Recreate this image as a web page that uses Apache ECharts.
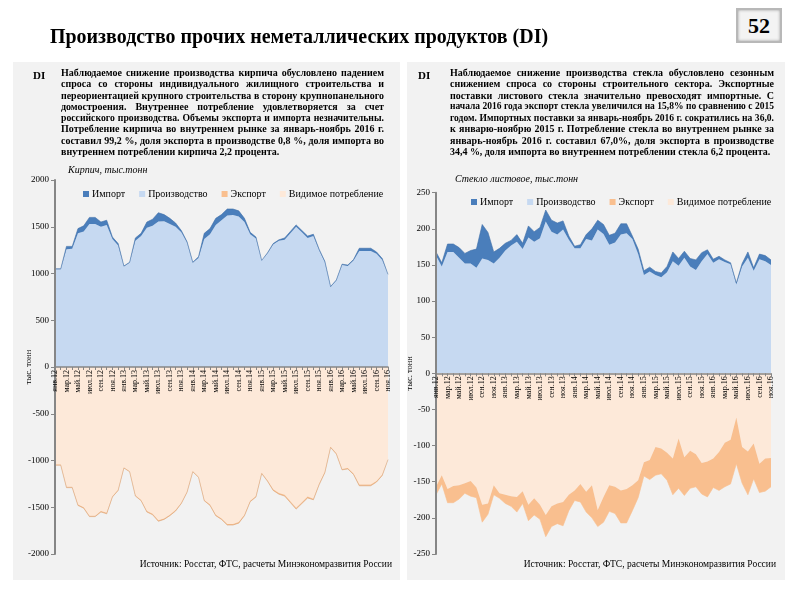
<!DOCTYPE html>
<html>
<head>
<meta charset="utf-8">
<script src="https://cdn.jsdelivr.net/npm/echarts@6/dist/echarts.min.js"></script>
<style>
  html, body { margin:0; padding:0; background:#fff; }
  #wrap { position:relative; width:800px; height:597px; overflow:hidden; font-family:'Liberation Serif', 'Times New Roman', serif; }
  #chart { position:absolute; left:0; top:0; width:800px; height:597px; }
  .ov { position:absolute; z-index:5; color:#000; }
  #title { left:50px; top:24px; font-weight:bold; font-size:21px; white-space:nowrap; transform-origin:left top; }
  #pg { left:736px; top:8px; width:42px; height:31px; border:2px solid #b8b8b8; box-shadow: inset 0 0 3px #999; background:#f3f3f3;
        font-weight:bold; font-size:22px; text-align:center; line-height:31px; }
  .di { font-weight:bold; font-size:11px; }
  .para { font-weight:bold; font-size:10px; }
  .ln { height:11.3px; line-height:11.3px; text-align:justify; text-align-last:justify; white-space:normal; overflow:visible; }
  .ln.last { text-align:left; text-align-last:left; }
</style>
</head>
<body>
<div id="wrap">
  <div id="chart"></div>
  <div class="ov" id="title">Производство прочих неметаллических продуктов (DI)</div>
  <div class="ov" id="pg">52</div>
  <div class="ov di" style="left:33px;top:69px;">DI</div>
  <div class="ov di" style="left:418px;top:69px;">DI</div>
  <div class="ov para" id="paraL" style="left:61px;top:67px;width:323px;"></div>
  <div class="ov para" id="paraR" style="left:450px;top:67px;width:324px;"></div>
</div>
<script>
// ---------- Texts ----------
const textLeft = [
  "Наблюдаемое снижение производства кирпича обусловлено падением",
  "спроса со стороны индивидуального жилищного строительства и",
  "переориентацией крупного строительства в сторону крупнопанельного",
  "домостроения. Внутреннее потребление удовлетворяется за счет",
  "российского производства. Объемы экспорта  и импорта незначительны.",
  "Потребление кирпича во внутреннем рынке за январь-ноябрь 2016 г.",
  "составил 99,2 %, доля экспорта в производстве  0,8 %, доля импорта во",
  "внутреннем потреблении кирпича 2,2 процента."
];
const textRight = [
  "Наблюдаемое снижение производства стекла обусловлено сезонным",
  "снижением спроса со стороны строительного сектора. Экспортные",
  "поставки листового стекла  значительно превосходят импортные. С",
  "начала 2016 года экспорт стекла увеличился на 15,8% по сравнению с 2015",
  "годом. Импортных поставки за январь-ноябрь 2016 г. сократились на 36,0.",
  "к январю-ноябрю 2015 г. Потребление стекла во внутреннем рынке за",
  "январь-ноябрь 2016 г. составил 67,0%, доля экспорта в производстве",
  "34,4 %,  доля импорта во внутреннем потреблении стекла 6,2 процента."
];

// ---------- Data ----------
const categories = [
  'янв.12','фев.12','мар.12','апр.12','май.12','июн.12','июл.12','авг.12','сен.12','окт.12','ноя.12','дек.12',
  'янв.13','фев.13','мар.13','апр.13','май.13','июн.13','июл.13','авг.13','сен.13','окт.13','ноя.13','дек.13',
  'янв.14','фев.14','мар.14','апр.14','май.14','июн.14','июл.14','авг.14','сен.14','окт.14','ноя.14','дек.14',
  'янв.15','фев.15','мар.15','апр.15','май.15','июн.15','июл.15','авг.15','сен.15','окт.15','ноя.15','дек.15',
  'янв.16','фев.16','мар.16','апр.16','май.16','июн.16','июл.16','авг.16','сен.16','окт.16','ноя.16'
];

// Кирпич, тыс. тонн
const brickProduction = [
  1045,1045,1260,1265,1430,1450,1530,1530,1500,1520,1370,1300,
  1075,1115,1350,1400,1490,1510,1555,1560,1530,1500,1440,1330,
  1115,1165,1370,1420,1520,1570,1620,1625,1610,1550,1420,1375,
  1140,1215,1310,1350,1360,1430,1500,1440,1380,1400,1250,1120,
  855,925,1090,1080,1140,1240,1240,1240,1210,1145,985
];
const brickImport = [
  5,5,30,25,50,60,70,70,50,50,20,20,
  5,5,30,30,60,70,95,70,60,40,20,10,
  5,15,60,60,70,60,70,65,60,40,20,15,
  0,5,10,10,20,20,20,20,20,20,10,10,
  5,5,10,10,10,30,30,30,20,15,5
];
const brickExport = [
  6,6,8,8,10,10,10,10,10,10,8,8,
  6,6,8,8,10,10,10,10,10,10,8,8,
  6,6,8,10,10,10,12,12,12,10,10,8,
  8,10,12,12,14,14,14,14,14,12,12,10,
  8,8,10,10,12,12,12,12,12,10,8
];
const brickConsumption = [
  1044,1044,1282,1282,1470,1500,1590,1590,1540,1560,1382,1312,
  1074,1114,1372,1422,1540,1570,1640,1620,1580,1530,1452,1332,
  1114,1174,1422,1470,1580,1620,1678,1678,1658,1580,1430,1382,
  1132,1210,1308,1348,1366,1436,1506,1446,1386,1408,1248,1120,
  852,922,1090,1080,1138,1258,1258,1258,1218,1150,982
];

// Стекло листовое, тыс. тонн
const glassProduction = [
  163,148,168,168,160,152,152,146,159,157,152,160,
  170,177,182,172,188,182,187,210,196,192,199,185,
  173,173,186,184,199,193,178,181,192,194,186,165,
  136,141,136,133,140,155,149,160,148,143,155,165,
  153,158,154,151,123,148,160,142,158,155,150
];
const glassImport = [
  5,5,11,11,14,14,18,26,47,38,16,13,
  10,7,10,8,16,14,15,16,16,16,12,5,
  3,5,6,16,13,13,13,13,15,13,4,7,
  6,6,5,6,8,13,10,9,11,14,12,6,
  5,4,3,2,2,4,8,4,7,8,7
];
const glassConsumption = [
  157,141,160,156,155,152,149,158,182,180,155,166,
  168,170,171,163,182,173,182,196,184,180,178,168,
  162,153,164,155,189,171,155,157,162,160,155,148,
  123,120,102,104,110,118,90,116,107,112,124,122,
  118,109,96,92,61,102,108,97,125,118,117
];
const glassExport = [
  11,12,19,23,19,14,21,14,24,15,13,7,
  12,14,21,17,22,23,20,30,28,28,33,22,
  14,25,28,45,23,35,36,37,45,47,35,24,
  19,27,39,35,38,50,69,53,52,45,43,49,
  40,53,61,61,64,50,60,49,40,45,40
];

const legendNames = ['Импорт','Производство','Экспорт','Видимое потребление'];

// ---------- Text layout ----------
const SERIF = "'Liberation Serif', 'Times New Roman', serif";
const cv = document.createElement('canvas').getContext('2d');
function buildPara(id, lines, W) {
  const box = document.getElementById(id);
  lines.forEach((t, i) => {
    const d = document.createElement('div');
    d.className = 'ln' + (i === lines.length - 1 ? ' last' : '');
    d.textContent = t;
    cv.font = "bold 10px " + SERIF;
    const w = cv.measureText(t).width;
    if (w > W - 1) d.style.fontSize = (10 * (W - 1) / w).toFixed(2) + 'px';
    box.appendChild(d);
  });
}
buildPara('paraL', textLeft, 323);
buildPara('paraR', textRight, 324);
(function(){
  const t = document.getElementById('title');
  const w = t.getBoundingClientRect().width;
  t.style.transform = 'scaleX(' + (498 / w).toFixed(3) + ')';
})();

// ---------- Chart ----------
const chart = echarts.init(document.getElementById('chart'), null, {renderer:'canvas'});
const C_PROD = '#c6d9f1', C_IMP = '#4a7ebb', C_EXP = '#f9bf8f', C_CONS = '#fde9d9';
const neg = a => a.map(v => -v);

// grid geometry
const G0 = { left:55, right:412, top:180, bottom:43 };
const G1 = { left:436, right:29, top:192.7, bottom:43 };
const Y0 = { min:-2000, max:2000, step:500 };
const Y1 = { min:-250, max:250, step:50 };
// distance from the grid bottom up to the zero level
function zeroOffset(g, y) {
  const h = 597 - g.top - g.bottom;
  return -h * (0 - y.min) / (y.max - y.min);
}

function area(name, data, color, idx, lineColor, lw) {
  return {
    name, type:'line', data, stack:'s' + idx, xAxisIndex: idx, yAxisIndex: idx,
    showSymbol:false, symbol:'none', smooth:false, z: 2,
    lineStyle:{ width: lw, color: lineColor },
    areaStyle:{ color, opacity:1 },
    itemStyle:{ color },
    emphasis:{ disabled:true }
  };
}
function xAxis(idx, off) {
  return {
    gridIndex: idx, type:'category', data: categories, boundaryGap:false, z: 10,
    position:'bottom', offset: off,
    axisLine:{ onZero:false, lineStyle:{ color:'#868686', width:1.5 } },
    axisTick:{ show:true, interval:0, length:3, lineStyle:{ color:'#868686' } },
    axisLabel:{ interval:1, rotate:90, fontSize:8, fontFamily:SERIF, color:'#000', margin:3 },
    splitLine:{ show:false }
  };
}
function yAxis(idx, y, gap) {
  return {
    gridIndex: idx, type:'value', min:y.min, max:y.max, interval:y.step, z: 10,
    name:'тыс. тонн', nameLocation:'middle', nameGap: gap, nameRotate: 90, nameMoveOverlap:false,
    nameTextStyle:{ fontSize:8.5, fontFamily:SERIF, color:'#000' },
    axisLine:{ show:true, lineStyle:{ color:'#868686', width:2 } },
    axisTick:{ show:true, length:4, lineStyle:{ color:'#868686' } },
    axisLabel:{ fontSize:9, fontFamily:SERIF, color:'#000', margin:6, formatter: v => String(v) },
    splitLine:{ show:false }
  };
}
function legend(left, top) {
  return {
    left, top, data: legendNames, icon:'rect', itemWidth:6, itemHeight:6, itemGap:14,
    padding:0, selectedMode:false,
    textStyle:{ fontSize:10, fontFamily:SERIF, color:'#000', padding:[0,0,0,-2] }
  };
}

const option = {
  animation:false,
  graphic:[
    { type:'rect', z:-10, silent:true, shape:{ x:13, y:62, width:387, height:518 }, style:{ fill:'#f2f2f2' } },
    { type:'rect', z:-10, silent:true, shape:{ x:407, y:62, width:378, height:518 }, style:{ fill:'#f2f2f2' } }
  ],
  title:[
    { text:'Кирпич, тыс.тонн', left:68, top:165, padding:0,
      textStyle:{ fontSize:10, fontStyle:'italic', fontWeight:'normal', fontFamily:SERIF, color:'#000' } },
    { text:'Стекло листовое, тыс.тонн', left:455, top:174, padding:0,
      textStyle:{ fontSize:10, fontStyle:'italic', fontWeight:'normal', fontFamily:SERIF, color:'#000' } },
    { text:'Источник: Росстат, ФТС, расчеты Минэкономразвития России', right:408, top:559, padding:0,
      textStyle:{ fontSize:9.5, fontWeight:'normal', fontFamily:SERIF, color:'#000' } },
    { text:'Источник: Росстат, ФТС, расчеты Минэкономразвития России', right:24, top:559, padding:0,
      textStyle:{ fontSize:9.5, fontWeight:'normal', fontFamily:SERIF, color:'#000' } }
  ],
  legend:[ legend(83, 189), legend(471, 197) ],
  grid:[ G0, G1 ],
  xAxis:[ xAxis(0, zeroOffset(G0, Y0)), xAxis(1, zeroOffset(G1, Y1)) ],
  yAxis:[ yAxis(0, Y0, 22), yAxis(1, Y1, 22) ],
  series:[
    area('Производство', brickProduction, C_PROD, 0, C_PROD, 0),
    area('Импорт', brickImport, C_IMP, 0, '#3f6fa8', 0.6),
    area('Видимое потребление', neg(brickConsumption), C_CONS, 0, C_CONS, 0),
    area('Экспорт', neg(brickExport), C_EXP, 0, '#d8a070', 0.6),
    area('Производство', glassProduction, C_PROD, 1, C_PROD, 0),
    area('Импорт', glassImport, C_IMP, 1, '#3f6fa8', 0.6),
    area('Видимое потребление', neg(glassConsumption), C_CONS, 1, C_CONS, 0),
    area('Экспорт', neg(glassExport), C_EXP, 1, C_EXP, 0.6)
  ]
};
chart.setOption(option);
</script>
</body>
</html>
